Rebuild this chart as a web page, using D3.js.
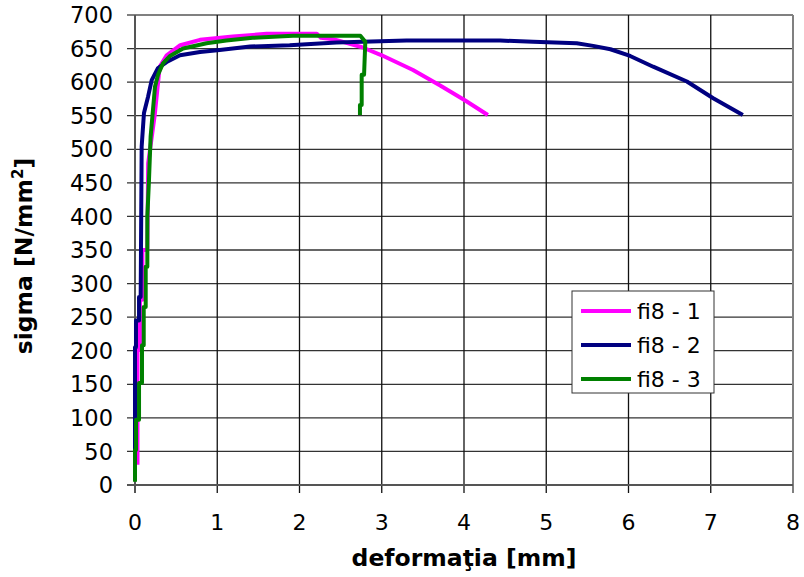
<!DOCTYPE html>
<html><head><meta charset="utf-8">
<script src="https://cdn.jsdelivr.net/npm/d3@7"></script>
<style>body{margin:0;background:#fff}text{font-family:"DejaVu Sans",Verdana,sans-serif}</style>
</head><body><svg id="c" width="804" height="577"></svg>
<script>
const xTicks = [0,1,2,3,4,5,6,7,8];
const yTicks = [0,50,100,150,200,250,300,350,400,450,500,550,600,650,700];
const seriesNames = ["fi8 - 1","fi8 - 2","fi8 - 3"];
const seriesColors = ["#ff00ff","#000080","#008000"];
const s1x = [0.03,0.03,0.06,0.06,0.09,0.09,0.15,0.16,0.24,0.30,0.385,0.55,0.79,1.19,1.60,2.21,2.26,2.41,2.76,3.0,3.38,3.71,4.01,4.29];
const s1y = [30,201,201,276,276,350,350,479,551,623,640,655,663,668,672,672,666,664,652,640,618,595,573,551];
const s2x = [0,0,0.012,0.012,0.049,0.049,0.069,0.081,0.109,0.158,0.203,0.28,0.385,0.547,0.79,1.03,1.40,1.88,2.45,3.30,4.44,4.84,5.37,5.57,5.78,6.02,6.30,6.71,7.03,7.39];
const s2y = [40,205,205,245,245,280,280,504,554,578,603,621,630,640,645,648,653,655,659,662,662,660,658,654,649,639,623,601,576,551];
const s3x = [0,0,0.012,0.012,0.049,0.049,0.085,0.085,0.106,0.106,0.13,0.13,0.15,0.15,0.17,0.19,0.243,0.28,0.34,0.426,0.584,0.87,1.11,1.43,1.92,2.74,2.80,2.785,2.756,2.756,2.735,2.735];
const s3y = [5,52,52,97,97,152,152,208,208,265,265,325,325,400,454,519,593,611,628,639,650,658,662,666,669,669,660,611,611,566,566,551];

const svg = d3.select("#c");
const m = {l:135, r:793, t:15, b:485};
const x = d3.scaleLinear().domain([0,8]).range([m.l,m.r]);
const y = d3.scaleLinear().domain([0,700]).range([m.b,m.t]);

// grid
svg.append("g").selectAll("line").data(yTicks).join("line")
  .attr("x1",m.l-8).attr("x2",m.r).attr("y1",d=>y(d)).attr("y2",d=>y(d))
  .attr("stroke",d=>d===700?"#808080":"#333").attr("stroke-width",d=>d===700?2:1.3);
svg.append("g").selectAll("line").data(xTicks).join("line")
  .attr("y1",m.t).attr("y2",m.b+8).attr("x1",d=>x(d)).attr("x2",d=>x(d))
  .attr("stroke",d=>d===8?"#808080":"#111").attr("stroke-width",d=>d===8?2:1.3);
svg.append("line").attr("x1",m.l).attr("x2",m.l).attr("y1",m.t).attr("y2",m.b+8).attr("stroke","#555").attr("stroke-width",2);
svg.append("line").attr("x1",m.l-8).attr("x2",m.r).attr("y1",m.b).attr("y2",m.b).attr("stroke","#555").attr("stroke-width",2);

// tick labels
svg.append("g").selectAll("text").data(yTicks).join("text")
  .attr("x",m.l-22).attr("y",d=>y(d)).attr("dy","0.36em").attr("text-anchor","end")
  .attr("font-size",22.5).text(d=>d);
svg.append("g").selectAll("text").data(xTicks).join("text")
  .attr("x",d=>x(d)).attr("y",530).attr("text-anchor","middle")
  .attr("font-size",22).text(d=>d);

// titles
svg.append("text").attr("x",464).attr("y",566).attr("text-anchor","middle")
  .attr("font-size",23.5).attr("font-weight","bold").text("deformaţia [mm]");
const yt = svg.append("text").attr("transform","translate(32,256) rotate(-90)")
  .attr("text-anchor","middle").attr("font-size",23.5).attr("font-weight","bold");
yt.append("tspan").text("sigma [N/mm");
yt.append("tspan").attr("font-size",15).attr("dy",-9).text("2");
yt.append("tspan").attr("dy",9).text("]");

// series
const data = [[s1x,s1y],[s2x,s2y],[s3x,s3y]];
const line = d3.line().x(d=>x(d[0])).y(d=>y(d[1]));
[0,1,2].forEach(i=>{
  const pts = data[i][0].map((v,j)=>[v,data[i][1][j]]);
  svg.append("path").attr("d",line(pts)).attr("fill","none")
    .attr("stroke",seriesColors[i]).attr("stroke-width",4).attr("stroke-linejoin","round");
});

// legend
const lg = svg.append("g");
lg.append("rect").attr("x",572).attr("y",291).attr("width",142).attr("height",102)
  .attr("fill","#fff").attr("stroke","#333").attr("stroke-width",1);
seriesNames.forEach((n,i)=>{
  const yy = 311 + i*34;
  lg.append("line").attr("x1",581).attr("x2",631).attr("y1",yy).attr("y2",yy)
    .attr("stroke",seriesColors[i]).attr("stroke-width",4);
  lg.append("text").attr("x",637).attr("y",yy).attr("dy","0.36em").attr("font-size",22).text(n);
});
</script></body></html>
